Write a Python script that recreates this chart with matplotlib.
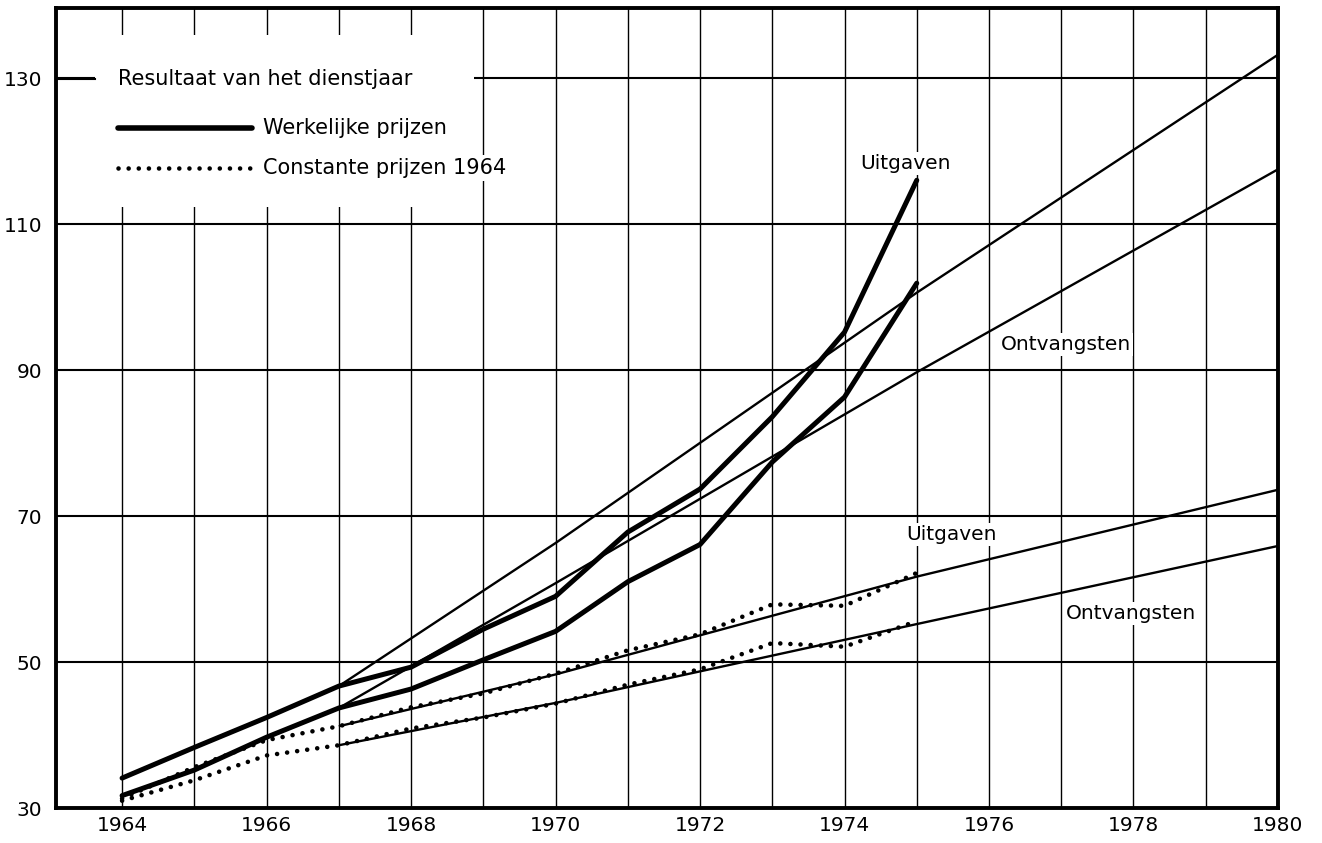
import matplotlib
matplotlib.use("Agg")
import matplotlib.pyplot as plt
import numpy as np
from matplotlib.patches import Rectangle
from matplotlib.lines import Line2D

# jaarlijkse waarden 1964-1975
years = [1964, 1965, 1966, 1967, 1968, 1969, 1970, 1971, 1972, 1973, 1974, 1975]
uitg_real = [34.1, 38.3, 42.4, 46.7, 49.3, 54.5, 59.0, 67.8, 73.7, 83.6, 95.2, 116.0]
ontv_real = [31.7, 35.2, 39.7, 43.7, 46.3, 50.3, 54.2, 61.0, 66.1, 77.4, 86.3, 101.9]
uitg_const = [31.3, 35.6, 39.3, 41.2, 43.8, 45.7, 48.4, 51.6, 53.8, 57.9, 57.7, 62.2]
ontv_const = [31.0, 33.8, 37.2, 38.6, 40.9, 42.4, 44.3, 46.9, 49.0, 52.6, 52.1, 55.6]

# trendlijnen (resultaat van het dienstjaar)
trend_years = [1967, 1970, 1975, 1980]
trend_uitg_real = [46.7, 66.3, 100.6, 133.2]
trend_ontv_real = [43.7, 60.8, 89.7, 117.5]
trend_uitg_const = [41.2, 48.3, 61.7, 73.6]
trend_ontv_const = [38.6, 44.4, 55.2, 65.9]

xticks = [1964, 1966, 1968, 1970, 1972, 1974, 1976, 1978, 1980]
yticks = [30, 50, 70, 90, 110, 130]

labels = ['Uitgaven', 'Ontvangsten', 'Uitgaven', 'Ontvangsten']
label_x = [1974.85, 1977.07, 1975.48, 1977.96]
label_y = [118.3, 93.5, 67.5, 56.7]

plt.rcParams['font.family'] = ['DejaVu Sans']
fig = plt.figure(figsize=(13.22, 8.43), dpi=100)
ax = fig.add_axes([0.0424, 0.0415, 0.9243, 0.949])

dotstyle = (0, (0.01, 2.2))
thick = dict(color='black', lw=3.6, solid_capstyle='round', solid_joinstyle='round', zorder=3)
thin = dict(color='black', lw=1.7, solid_capstyle='butt', zorder=3)
dots = dict(color='black', lw=3.3, linestyle=dotstyle, dash_capstyle='round', zorder=3)

ax.plot(years, uitg_real, **thick)
ax.plot(years, ontv_real, **thick)
ax.plot(years, uitg_const, **dots)
ax.plot(years, ontv_const, **dots)
ax.plot(trend_years, trend_uitg_real, **thin)
ax.plot(trend_years, trend_ontv_real, **thin)
ax.plot(trend_years, trend_uitg_const, **thin)
ax.plot(trend_years, trend_ontv_const, **thin)

for t, x, y in zip(labels, label_x, label_y):
    ax.text(x, y, t, fontsize=14.5, ha='center', va='center', zorder=4,
            bbox=dict(facecolor='white', edgecolor='none', pad=1.5))

ax.set_xlim(1963.086, 1980)
ax.set_ylim(30, 139.6)

# rooster: elk jaar verticaal, horizontaal om de 20
for yr in range(1964, 1980):
    ax.axvline(yr, color='black', lw=1.0, zorder=0.5)
for v in yticks[1:]:
    ax.axhline(v, color='black', lw=1.5, zorder=0.5)

ax.set_xticks(xticks)
ax.set_yticks(yticks)
ax.tick_params(axis='both', length=0, labelsize=14.5)
ax.tick_params(axis='y', pad=10)
ax.tick_params(axis='x', pad=6)
for s in ax.spines.values():
    s.set_linewidth(2.8)

# legenda (handmatig, witte achtergrond over het rooster)
ax.add_patch(Rectangle((0.032, 0.751), 0.31, 0.215, transform=ax.transAxes,
                       facecolor='white', edgecolor='none', zorder=1.5))
ax.add_line(Line2D([0.001, 0.032], [0.911, 0.911], transform=ax.transAxes,
                   color='black', lw=1.5, zorder=3))
ax.text(0.0507, 0.911, 'Resultaat van het dienstjaar', transform=ax.transAxes,
        fontsize=15, va='center', ha='left', zorder=4)
ax.add_line(Line2D([0.0507, 0.1604], [0.85, 0.85], transform=ax.transAxes,
                   color='black', lw=4.0, solid_capstyle='round', zorder=3))
ax.text(0.1694, 0.85, 'Werkelijke prijzen', transform=ax.transAxes,
        fontsize=15, va='center', ha='left', zorder=4)
ax.add_line(Line2D([0.0507, 0.1604], [0.80, 0.80], transform=ax.transAxes,
                   color='black', lw=3.3, linestyle=dotstyle,
                   dash_capstyle='round', zorder=3))
ax.text(0.1694, 0.80, 'Constante prijzen 1964', transform=ax.transAxes,
        fontsize=15, va='center', ha='left', zorder=4,
        bbox=dict(facecolor='white', edgecolor='none', pad=2))

plt.savefig('out.png', dpi=100)
